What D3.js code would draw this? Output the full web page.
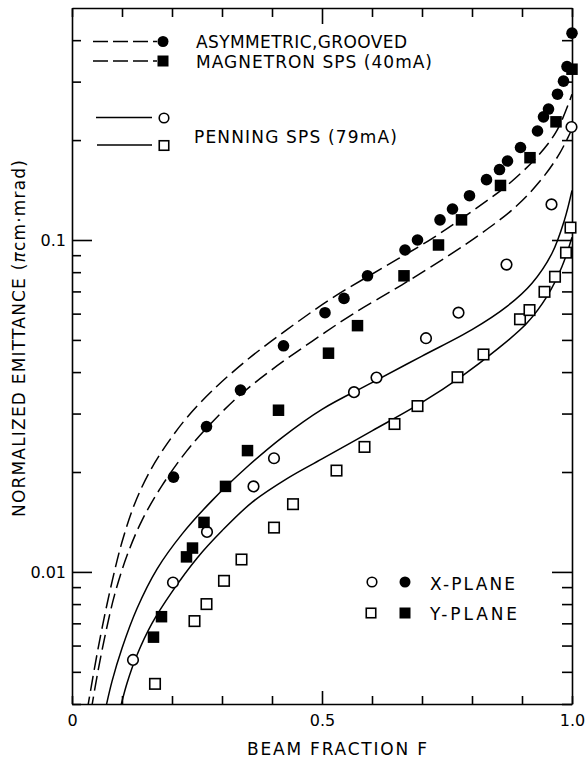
<!DOCTYPE html>
<html>
<head>
<meta charset="utf-8">
<script src="https://cdn.jsdelivr.net/npm/d3@7"></script>
<style>
	body { margin: 0; background: #fff; }
	text { font-family: 'DejaVu Sans', sans-serif; fill: #000; }
</style>
</head>
<body>
<div id="chart"></div>
<script>
// values, [beam fraction F, normalized emittance]
let groovedX = [
	[0.203, 0.0193], [0.269, 0.0274], [0.337, 0.0353], [0.423, 0.048], [0.506, 0.0604],
	[0.544, 0.0667], [0.591, 0.078], [0.666, 0.0933], [0.691, 0.100], [0.736, 0.115],
	[0.761, 0.124], [0.795, 0.136], [0.829, 0.152], [0.855, 0.163], [0.871, 0.173],
	[0.897, 0.190], [0.931, 0.213], [0.943, 0.235], [0.953, 0.248], [0.971, 0.275],
	[0.983, 0.301], [0.990, 0.333], [1.0, 0.42]
];
let groovedY = [
	[0.163, 0.00636], [0.179, 0.00733], [0.229, 0.0111], [0.241, 0.0118], [0.264, 0.0141],
	[0.307, 0.0181], [0.351, 0.0232], [0.413, 0.0307], [0.513, 0.0456], [0.571, 0.0552],
	[0.664, 0.078], [0.733, 0.0966], [0.779, 0.115], [0.857, 0.146], [0.916, 0.177],
	[0.968, 0.227], [1.0, 0.327]
];
let penningX = [
	[0.122, 0.00543], [0.202, 0.00929], [0.270, 0.0132], [0.363, 0.0181], [0.404, 0.022],
	[0.564, 0.0348], [0.609, 0.0385], [0.708, 0.0506], [0.773, 0.0604], [0.869, 0.0843],
	[0.959, 0.128], [0.999, 0.219]
];
let penningY = [
	[0.166, 0.0046], [0.245, 0.00711], [0.269, 0.0080], [0.304, 0.0094], [0.339, 0.0109],
	[0.404, 0.0136], [0.442, 0.016], [0.529, 0.0202], [0.585, 0.0238], [0.645, 0.0279],
	[0.691, 0.0316], [0.771, 0.0386], [0.823, 0.0452], [0.896, 0.0577], [0.915, 0.0615],
	[0.945, 0.0698], [0.966, 0.0775], [0.988, 0.0916], [0.997, 0.109]
];

// fitted curves, traced by eye
let groovedCurveX = [
	[0.030, 0.0038], [0.045, 0.00513], [0.06, 0.00676], [0.08, 0.00933], [0.10, 0.0123],
	[0.125, 0.016], [0.155, 0.02], [0.19, 0.0243], [0.23, 0.0292], [0.28, 0.0351],
	[0.35, 0.0435], [0.43, 0.0537], [0.52, 0.0668], [0.62, 0.0822], [0.72, 0.101],
	[0.80, 0.122], [0.87, 0.146], [0.93, 0.178], [0.97, 0.214], [1.0, 0.275]
];
let groovedCurveY = [
	[0.038, 0.0038], [0.05, 0.00484], [0.065, 0.00631], [0.085, 0.00851], [0.11, 0.0112],
	[0.14, 0.0143], [0.18, 0.0182], [0.23, 0.0232], [0.27, 0.0272], [0.33, 0.0335],
	[0.40, 0.0407], [0.48, 0.0495], [0.56, 0.0596], [0.66, 0.0733], [0.75, 0.0891],
	[0.82, 0.105], [0.89, 0.127], [0.94, 0.153], [0.975, 0.182], [1.0, 0.216]
];
let penningCurveX = [
	[0.066, 0.0038], [0.08, 0.00468], [0.10, 0.00589], [0.13, 0.00776], [0.17, 0.0102],
	[0.22, 0.013], [0.28, 0.0164], [0.35, 0.0207], [0.42, 0.0254], [0.50, 0.0309],
	[0.60, 0.0372], [0.70, 0.0447], [0.80, 0.0537], [0.87, 0.0631], [0.92, 0.0741],
	[0.96, 0.0912], [0.985, 0.115], [1.0, 0.141]
];
let penningCurveY = [
	[0.095, 0.0038], [0.11, 0.00462], [0.13, 0.00562], [0.16, 0.007], [0.20, 0.00871],
	[0.25, 0.011], [0.30, 0.0133], [0.36, 0.0162], [0.43, 0.0191], [0.50, 0.0219],
	[0.60, 0.0266], [0.70, 0.0324], [0.78, 0.0389], [0.85, 0.0468], [0.91, 0.0562],
	[0.95, 0.0676], [0.98, 0.0832], [1.0, 0.102]
];

let xTicks = [0, 0.1, 0.2, 0.3, 0.4, 0.5, 0.6, 0.7, 0.8, 0.9, 1.0];
let xLabels = [0, 0.5, 1.0];
let yMinor = [0.004, 0.005, 0.006, 0.007, 0.008, 0.009, 0.02, 0.03, 0.04, 0.05, 0.06, 0.07, 0.08, 0.09, 0.2, 0.3, 0.4];
let yMajor = [0.01, 0.1];

let svgWidth = 585;
let svgHeight = 761;
let svg = d3.select('#chart').append('svg')
	.attr('width', svgWidth)
	.attr('height', svgHeight);

let x = d3.scaleLinear()
	.domain([0, 1])
	.range([72, 572]);
let y = d3.scaleLog()
	.domain([0.004, 0.5])
	.range([704, 8]);

// axes, ticks all point inward
let axes = svg.append('g').classed('axes', true);
let styleAxis = g => {
	g.selectAll('path, line').attr('stroke', '#000').attr('stroke-width', 1.6);
	g.selectAll('text').attr('font-size', '16px').attr('font-family', 'DejaVu Sans');
};

axes.append('g')
	.attr('transform', `translate(0, ${y(0.004)})`)
	.call(d3.axisBottom(x).tickValues(xTicks.filter(d => d != 0.5)).tickSizeInner(-8).tickSizeOuter(0).tickFormat(''))
	.call(styleAxis);
axes.append('g')
	.attr('transform', `translate(0, ${y(0.004)})`)
	.call(d3.axisBottom(x).tickValues([0.5]).tickSizeInner(-13).tickSizeOuter(0).tickFormat(''))
	.call(styleAxis)
	.select('.domain').remove();
axes.append('g')
	.attr('transform', `translate(0, ${y(0.004)})`)
	.call(d3.axisBottom(x).tickValues(xLabels).tickSize(0).tickPadding(11).tickFormat(d => d == 0 ? '0' : d3.format('.1f')(d)))
	.call(styleAxis)
	.select('.domain').remove();

axes.append('g')
	.attr('transform', `translate(0, ${y(0.5)})`)
	.call(d3.axisTop(x).tickValues(xTicks.filter(d => d != 0.5)).tickSizeInner(-9).tickSizeOuter(0).tickFormat(''))
	.call(styleAxis);
axes.append('g')
	.attr('transform', `translate(0, ${y(0.5)})`)
	.call(d3.axisTop(x).tickValues([0.5]).tickSizeInner(-16).tickSizeOuter(0).tickFormat(''))
	.call(styleAxis)
	.select('.domain').remove();

axes.append('g')
	.attr('transform', `translate(${x(0)}, 0)`)
	.call(d3.axisLeft(y).tickValues(yMinor).tickSizeInner(-9).tickSizeOuter(0).tickFormat(''))
	.call(styleAxis);
axes.append('g')
	.attr('transform', `translate(${x(0)}, 0)`)
	.call(d3.axisLeft(y).tickValues(yMajor).tickSizeInner(-20).tickSizeOuter(0).tickPadding(6).tickFormat(d => d == 0.1 ? '0.1' : '0.01'))
	.call(styleAxis)
	.select('.domain').remove();

axes.append('g')
	.attr('transform', `translate(${x(1)}, 0)`)
	.call(d3.axisRight(y).tickValues(yMinor).tickSizeInner(-10).tickSizeOuter(0).tickFormat(''))
	.call(styleAxis);
axes.append('g')
	.attr('transform', `translate(${x(1)}, 0)`)
	.call(d3.axisRight(y).tickValues(yMajor).tickSizeInner(-20).tickSizeOuter(0).tickFormat(''))
	.call(styleAxis)
	.select('.domain').remove();

svg.append('text')
	.attr('x', 247)
	.attr('y', 755)
	.attr('font-size', '17px')
	.attr('textLength', 180)
	.text('BEAM FRACTION F');

let ylab = svg.append('text')
	.attr('transform', 'rotate(-90)')
	.attr('x', -517)
	.attr('y', 25)
	.attr('font-size', '17px')
	.attr('textLength', 357);
ylab.append('tspan').text('NORMALIZED EMITTANCE (');
ylab.append('tspan').attr('font-style', 'italic').text('π');
ylab.append('tspan').text('cm·mrad)');

// curves
svg.append('clipPath')
	.attr('id', 'plotClip')
	.append('rect')
	.attr('x', x(0))
	.attr('y', y(0.5))
	.attr('width', x(1) - x(0))
	.attr('height', y(0.004) - y(0.5));

let line = d3.line()
	.x(d => x(d[0]))
	.y(d => y(d[1]))
	.curve(d3.curveCatmullRom.alpha(0.5));

let curves = [
	{data: groovedCurveX, dash: '15,6'},
	{data: groovedCurveY, dash: '15,6'},
	{data: penningCurveX, dash: null},
	{data: penningCurveY, dash: null}
];
svg.append('g')
	.attr('clip-path', 'url(#plotClip)')
	.selectAll('path.curve')
	.data(curves)
	.enter()
	.append('path')
	.classed('curve', true)
	.attr('d', d => line(d.data))
	.attr('fill', 'none')
	.attr('stroke', '#000')
	.attr('stroke-width', 1.5)
	.attr('stroke-dasharray', d => d.dash);

// markers
let drawCircles = (data, filled) => {
	svg.append('g')
		.selectAll('circle')
		.data(data)
		.enter()
		.append('circle')
		.attr('cx', d => x(d[0]))
		.attr('cy', d => y(d[1]))
		.attr('r', filled ? 5.8 : 5.3)
		.attr('fill', filled ? '#000' : '#fff')
		.attr('stroke', '#000')
		.attr('stroke-width', filled ? 0 : 1.6);
};
let drawSquares = (data, filled) => {
	let s = filled ? 11.5 : 10.5;
	svg.append('g')
		.selectAll('rect')
		.data(data)
		.enter()
		.append('rect')
		.attr('x', d => x(d[0]) - s / 2)
		.attr('y', d => y(d[1]) - s / 2)
		.attr('width', s)
		.attr('height', s)
		.attr('fill', filled ? '#000' : '#fff')
		.attr('stroke', '#000')
		.attr('stroke-width', filled ? 0 : 1.6);
};
drawCircles(penningX, false);
drawSquares(penningY, false);
drawSquares(groovedY, true);
drawCircles(groovedX, true);

// legend, top left
let legend = svg.append('g').classed('legend', true);
let legendLines = [
	{y: 41.5, x1: 93, x2: 157, dash: '15,5'},
	{y: 61, x1: 93, x2: 157, dash: '15,5'},
	{y: 117.5, x1: 96, x2: 152, dash: null},
	{y: 145, x1: 97, x2: 152, dash: null}
];
legend.selectAll('line')
	.data(legendLines)
	.enter()
	.append('line')
	.attr('x1', d => d.x1)
	.attr('x2', d => d.x2)
	.attr('y1', d => d.y)
	.attr('y2', d => d.y)
	.attr('stroke', '#000')
	.attr('stroke-width', 1.5)
	.attr('stroke-dasharray', d => d.dash);

let legendMark = (g, kind, cx, cy) => {
	if (kind[0] == 'c') {
		g.append('circle')
			.attr('cx', cx).attr('cy', cy)
			.attr('r', kind == 'cf' ? 5.5 : 4.8)
			.attr('fill', kind == 'cf' ? '#000' : '#fff')
			.attr('stroke', '#000')
			.attr('stroke-width', kind == 'cf' ? 0 : 1.6);
	} else {
		let s = kind == 'sf' ? 11 : 9.5;
		g.append('rect')
			.attr('x', cx - s / 2).attr('y', cy - s / 2)
			.attr('width', s).attr('height', s)
			.attr('fill', kind == 'sf' ? '#000' : '#fff')
			.attr('stroke', '#000')
			.attr('stroke-width', kind == 'sf' ? 0 : 1.6);
	}
};
legendMark(legend, 'cf', 163, 41.5);
legendMark(legend, 'sf', 163, 61);
legendMark(legend, 'co', 164, 118);
legendMark(legend, 'so', 164, 145.5);

legend.append('text').attr('x', 196).attr('y', 48).attr('font-size', '17px').attr('textLength', 211).text('ASYMMETRIC,GROOVED');
legend.append('text').attr('x', 196).attr('y', 68).attr('font-size', '17px').attr('textLength', 236).text('MAGNETRON SPS (40mA)');
legend.append('text').attr('x', 194).attr('y', 143).attr('font-size', '17px').attr('textLength', 203).text('PENNING SPS (79mA)');

// legend, lower right
legendMark(legend, 'co', 372, 582);
legendMark(legend, 'cf', 405, 582);
legendMark(legend, 'so', 371, 613);
legendMark(legend, 'sf', 405, 613);
legend.append('text').attr('x', 430).attr('y', 589.5).attr('font-size', '17px').attr('textLength', 85).text('X-PLANE');
legend.append('text').attr('x', 430).attr('y', 620).attr('font-size', '17px').attr('textLength', 87).text('Y-PLANE');
</script>
</body>
</html>
